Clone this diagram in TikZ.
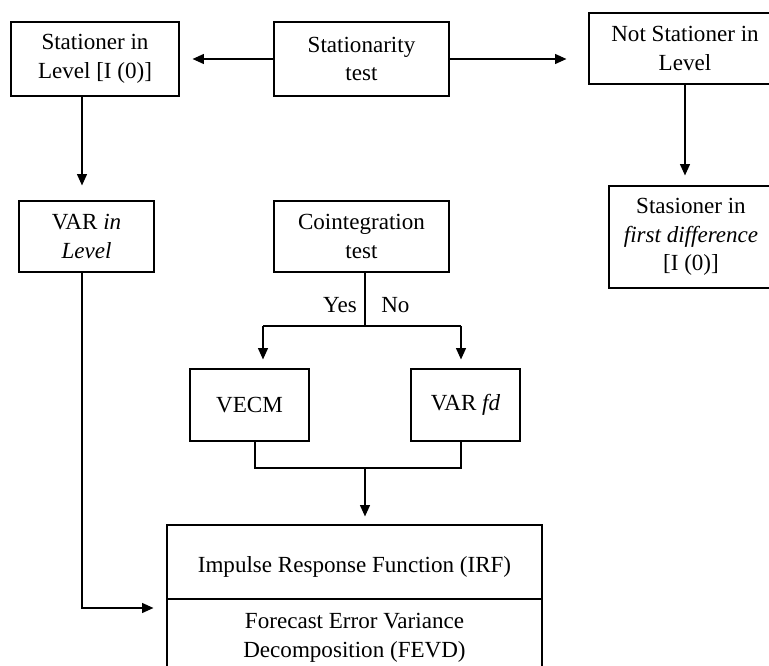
\documentclass[tikz,border=0pt]{standalone}
\usepackage{fontspec}
\setmainfont{Liberation Serif}
\usetikzlibrary{arrows.meta}
\begin{document}
\begin{tikzpicture}[x=0.75pt,y=-0.75pt,
  txt/.style={font=\fontsize{17.3}{21.6}\selectfont},
  box/.style={txt,draw,line width=0.9pt,align=center,inner sep=0pt},
  conn/.style={line width=0.9pt},
  arr/.style={conn,-{Triangle[length=8.5pt,width=7.5pt]}}]
\useasboundingbox (0,0) rectangle (769,666);
\fill[white] (0,0) rectangle (769,666);
\clip (0,0) rectangle (769,666);
% boxes
\node[box,minimum width=126pt,minimum height=55.5pt] (st0) at (95,59) {Stationer in\\Level [I (0)]};
\node[box,minimum width=131.25pt,minimum height=55.5pt] (stt) at (361.5,59) {Stationarity\\test};
\node[box,minimum width=144pt,minimum height=53.25pt] (nst) at (685,48.5) {Not Stationer in\\Level};
\node[box,minimum width=123pt,minimum height=76.5pt] (sfd) at (691,237) {Stasioner in\\\textit{first difference}\\{}[I (0)]};
\node[box,minimum width=101.25pt,minimum height=53.25pt] (var) at (86.5,236.5) {VAR \textit{in}\\\textit{Level}};
\node[box,minimum width=131.25pt,minimum height=53.25pt] (coi) at (361.5,236.5) {Cointegration\\test};
\node[box,minimum width=89.25pt,minimum height=54pt] (vecm) at (249.5,405) {VECM};
\node[box,minimum width=81.75pt,minimum height=54pt] (varfd) at (465.5,405) {VAR \textit{fd}};
\node[box,minimum width=281.25pt,minimum height=55.5pt] (irf) at (354.5,562) {};
\node[box,minimum width=281.25pt,minimum height=57pt] (fevd) at (354.5,637) {};
\node[txt,align=center,inner sep=0pt] (irft) at (354.5,567) {Impulse Response Function (IRF)};
\node[txt,align=center,inner sep=0pt] (fevdt) at (354.5,638) {Forecast Error Variance\\Decomposition (FEVD)};
% labels
\node[txt,anchor=east,inner sep=0pt] (yes) at (357,305) {Yes};
\node[txt,anchor=west,inner sep=0pt] (no) at (381,305) {No};
% helper coordinates
\coordinate (lc) at (82,608);
\coordinate (split) at (365,326);
\coordinate (yL) at (263,326);
\coordinate (yR) at (461,326);
\coordinate (mL) at (255,468);
\coordinate (mR) at (461,468);
\coordinate (merge) at (365,468);
% connectors
\draw[arr,shorten >=9.75pt] (stt.west) -- (st0.east);
\draw[arr,shorten >=16.5pt] (stt.east) -- (stt.east -| nst.west);
\draw[arr,shorten >=11.25pt] (st0.south -| lc) -- (lc |- var.north);
\draw[arr,shorten >=7.5pt] (nst.south) -- (nst.south |- sfd.north);
\draw[arr,shorten >=9.75pt] (var.south -| lc) -- (lc) -- (lc -| irf.west);
\draw[conn] (coi.south -| split) -- (split);
\draw[conn] (yL) -- (yR);
\draw[arr,shorten >=6.75pt] (yL) -- (yL |- vecm.north);
\draw[arr,shorten >=6.75pt] (yR) -- (yR |- varfd.north);
\draw[conn] (mL |- vecm.south) -- (mL) -- (mR) -- (mR |- varfd.south);
\draw[arr,shorten >=6pt] (merge) -- (merge |- irf.north);
\end{tikzpicture}
\end{document}
